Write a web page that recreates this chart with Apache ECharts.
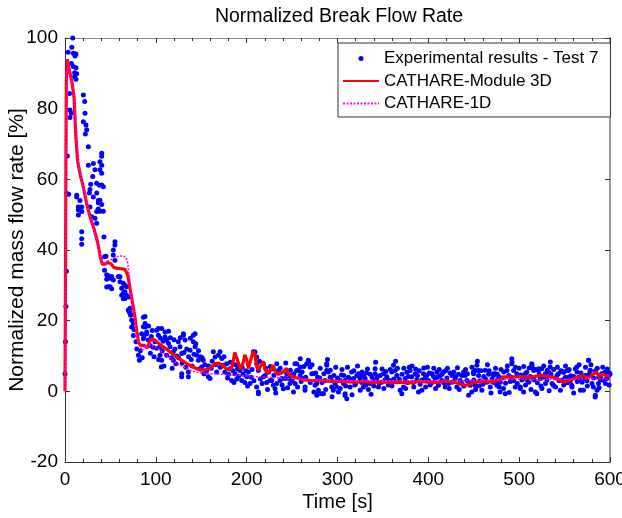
<!DOCTYPE html>
<html>
<head>
<meta charset="utf-8">
<script src="https://cdn.jsdelivr.net/npm/echarts@6/dist/echarts.min.js"></script>
<style>html,body{margin:0;padding:0;background:#fff}#c{width:622px;height:518px}</style>
</head>
<body>
<div id="c"></div>
<script>
var titleText = 'Normalized Break Flow Rate';
var xName = 'Time [s]';
var yName = 'Normalized mass flow rate [%]';
var seriesNames = ['Experimental results - Test 7', 'CATHARE-Module 3D', 'CATHARE-1D'];
var xTicks = [0, 100, 200, 300, 400, 500, 600];
var yTicks = [-20, 0, 20, 40, 60, 80, 100];

var experimental = [[0,5],[0.5,14],[1,24],[1.5,34],[2,56],[2.6,66.6],[3.5,96],[4,55.8],[5,84.3],[5.5,79.6],[5.5,77.5],[7,92.8],[7,78.7],[7.5,97.4],[8.5,100],[9.2,95.7],[9.2,91.9],[10.6,90.2],[10.6,89.1],[11,94.9],[12.1,95.5],[12.1,91.6],[12.1,88.3],[12.8,89.9],[12.8,55],[13,55.5],[14.7,52.2],[14.7,51.3],[14.7,49.9],[16.5,54],[18.4,52.2],[18.4,50.9],[18.4,45.2],[18.4,43.2],[18.4,41.6],[20.2,83.9],[20.2,76.3],[21.7,82],[22,78.7],[22.4,72.8],[23.1,75.4],[23.9,74],[25.7,69.2],[25.7,64],[26.8,56.1],[27.5,57.1],[27.5,52.2],[28.3,58.6],[29.4,49.4],[30.5,60.8],[31.2,64.5],[31.2,55],[33,62.7],[33,49],[34.9,56.1],[34.9,58.9],[34.9,50.9],[34.9,47.6],[36.7,54],[36.7,51.6],[36.7,53.4],[37.8,58.3],[38.5,65],[38.5,62.7],[38.5,51],[38.5,54.1],[40.4,67.4],[40.4,66.5],[40.4,64],[40.4,61.7],[40.4,58.4],[40.4,52.9],[42.2,57.9],[42.2,51],[42.9,43.7],[43.5,38.1],[43.5,34.3],[45.1,38.2],[45.9,33],[45.9,31.7],[45.9,29.5],[47.7,32.7],[47.7,29.6],[49.6,32],[49.6,29.6],[51.4,32.5],[51.4,29],[53.2,38.6],[53.2,31.5],[53.2,40],[55,42.3],[55,41.4],[55,37.1],[58.7,32.5],[60.6,31],[60.6,32.4],[62.4,29.2],[62.4,27.2],[64.2,30.6],[64.2,27.8],[64.2,26.2],[66,28.2],[66,26.3],[66,30],[67.9,29.6],[67.9,27.2],[69.7,26.7],[69.7,23],[70.8,22.5],[71.6,23.5],[71.6,22.1],[72.3,21.5],[73.4,20.1],[73.4,18.2],[75.3,19.2],[75.3,15.8],[76,17.5],[78.2,14],[79,12],[80.8,10.2],[81.9,8.8],[84.4,16.3],[86.3,21],[86.3,18.3],[86.3,14.9],[88.1,21.2],[88.1,19.2],[88.1,18.2],[89.9,16.8],[89.9,16.3],[91.8,14.5],[93.6,13],[95,15.5],[97,12.5],[99,14],[100.9,17.3],[102.8,15.9],[102.8,17.8],[104.6,12.6],[104.6,10.2],[106.4,8.8],[106.4,17.8],[106,6.9],[108,14.2],[110.1,16.8],[110.1,15.4],[111.9,14.5],[113.8,13.6],[115.6,12.6],[117,9.5],[119.3,11.2],[119.3,8.8],[121,12],[123,10],[124.8,14],[126.6,12.6],[128.5,10.7],[128.5,5],[128.5,4.1],[130.3,15.9],[130.3,16.3],[132.2,14.5],[134,12],[135.8,5.5],[135.8,4.1],[137.7,11.6],[139,9],[141.3,15.9],[141.3,14],[143.2,16.3],[143.2,12.6],[145,10.2],[146.8,8.8],[148.7,6.4],[150.5,6.9],[152.3,8.8],[154,7.5],[156,5.9],[157.8,4.1],[159.7,3.6],[161,6.5],[163.3,11.2],[165.2,9.7],[166,7.5],[168.8,10.2],[170.7,11.2],[172.5,9.3],[174.4,7.4],[176,5.5],[178,7.8],[180,4.8],[181.7,6.4],[183.5,3.1],[185,5.8],[187.2,5],[189,3.5],[190,6.3],[192.7,5.9],[194.5,3.1],[196,4.8],[198,2.5],[200,4.1],[202,5.5],[203.7,2.2],[205,4],[207.4,11.2],[209.2,11.1],[211,9.7],[211,7.8],[211,1.2],[212.9,5.9],[212.9,-0.2],[212.9,-0.7],[215,3.5],[218.4,7.8],[218.4,4.1],[220.3,4.5],[222,2.5],[224,5.4],[225.7,3.1],[227.6,3.1],[229.4,6.4],[229.4,1.7],[231.3,0.7],[233.1,7.8],[233.1,2.2],[235,5.9],[236.7,3.1],[238.6,3.6],[240.4,0.7],[242.3,3.6],[244,5],[246,3.6],[247.7,2.2],[249,4.5],[251.5,-0.2],[253.3,2.2],[253.2,7.8],[255,5.9],[255.1,7.8],[257,5.9],[258.7,6.9],[258.8,4.5],[260,2.8],[262.5,3.6],[264.3,1.2],[264.2,0.3],[266.1,7.8],[268,8.3],[267.9,8.8],[269.8,6.9],[271.7,5],[273.4,5],[275.3,1.7],[277.2,-1.1],[277.1,2.2],[279,0.3],[279,-0.7],[280.5,3.8],[282.7,-0.7],[284.5,-0.7],[286.3,3.1],[288.2,7.4],[288.1,5.9],[288.1,7.8],[290,5.5],[291.9,4],[293.7,1.2],[293.6,3.1],[295.4,0.3],[297.4,2.2],[299.1,1.2],[301,-0.2],[302.9,3.1],[304.5,4.6],[306.6,2.2],[308.4,-0.7],[308.3,-1.2],[308.3,3.1],[310.2,-2.1],[312,4],[313.9,1.2],[315.5,5.5],[317.6,3.6],[319,1.8],[321.2,4.5],[323.1,5],[324.9,3.6],[324.9,4.5],[326.5,2.5],[328.6,1.2],[330.4,3.6],[332,5.2],[334,0.5],[335.9,2.2],[338,4],[339.5,3],[341.4,6.4],[341.4,5],[343,3.5],[345.1,1.2],[347,4.5],[348.8,2.6],[350.6,5],[352.5,3.3],[354.3,4.1],[356,1.8],[357.9,3.1],[359.8,5.5],[361.6,7.4],[363.4,5.9],[365.3,4.5],[367,2.8],[369,0.3],[370.8,-0.7],[372.7,1.2],[374.5,3.6],[376.3,5.4],[378,4.2],[380,5.9],[381.8,4.1],[383.5,2.5],[385.5,5],[387.4,3.3],[389.2,-0.2],[391,2],[392.8,0.3],[394.7,5],[396.5,3.8],[398.3,4.5],[400.2,3.1],[402,1.8],[403.9,5],[405.7,4.2],[407.5,3.6],[409.4,5.4],[411.2,1.7],[413,4.4],[414.9,3.1],[416.7,5.5],[418.6,1.2],[420.4,3.8],[422.2,2.2],[424,5.2],[425.9,4.5],[427.7,2.8],[429.6,3.6],[431.4,1.2],[433.2,4.8],[435.1,3.1],[436.9,2.2],[438.8,5.5],[440.6,4.5],[442.4,3.1],[444.3,-1.1],[446.1,1.7],[447.8,-0.2],[449.7,5.5],[449.8,5],[451.5,1.7],[451.6,5.9],[453.5,7.4],[455.2,5.9],[455.3,4.5],[457,3],[459,0.3],[461,4.2],[462.5,6],[464.5,2.6],[466.4,4.8],[468.2,1.2],[470,3.5],[471.8,4.5],[471.7,5],[473.7,5],[475.5,1.7],[475.4,3.1],[477.3,4.2],[479.2,2.6],[479,-0.2],[481,3.8],[482.8,0.8],[484.7,-0.7],[486.5,5.9],[488.4,4.5],[490.2,2.8],[491.9,9.2],[492.1,8.3],[491.9,7.8],[493.9,5.9],[495.7,1.2],[497.4,5],[499.4,4.5],[501.3,1.2],[501.1,0.8],[503,3.2],[504.7,3.6],[504.9,-0.2],[506.8,5],[508.4,5.4],[510.5,2.6],[512.3,4.2],[514.1,7.4],[513.9,7.8],[516,5.9],[515.7,6.4],[517.8,-0.2],[519.4,-0.7],[521.5,6.4],[521.2,5.9],[523.3,3.6],[524.9,6.4],[525.1,0.8],[526.7,4],[528.8,5],[530.6,3.2],[532.4,5.5],[534.3,8.3],[534.1,6.9],[536.2,2.2],[537.7,1.7],[539.8,3.8],[541.7,4.5],[543.2,5],[545.4,0.3],[547,3.2],[549,5.5],[548.7,5.4],[550.8,4],[552.7,5.9],[554.5,4],[554.2,5.9],[556.3,3],[558.2,1.2],[557.9,1.7],[560,4.2],[561.9,6.4],[563.7,5.5],[563.4,6.9],[565.5,4],[567.4,0.3],[567.1,3.1],[569.2,2.6],[570.7,0.3],[572.9,4.5],[574.7,3],[576.6,8.8],[576.2,8.8],[578.4,5.9],[578.1,5.9],[580.2,2.2],[581.7,1.2],[583.9,-1.1],[583.6,-1.6],[585.7,0.3],[587.6,4],[587.3,2.2],[589.4,3.2],[591.3,5],[590.9,5],[593.1,3.1],[594.9,5.5],[594.6,5.4],[596.4,3.6],[598,4.5],[599.5,5.2],
[83,11.5],[85,9.5],[87,15.5],[92,18.5],[94,10.8],[96,17.2],[98,9.8],[101,12.2],[103,9],[105,15],[107,11.5],[109,7.2],[112,10.2],[114,17],[116,15.2],[118,6.5],[120,14.6],[122,7.8],[125,9.5],[127,15.2],[129,8],[131,11],[133,6.8],[136,9.8],[138,15],[140,7.2],[142,10.5],[144,13.5],[147,11.5],[149,9.8],
[151,9.5],[153,5],[158,7.2],[162,8.5],[167,5.5],[171,6.8],[175,9.8],[179,3.8],[182,8.2],[186,2.5],[188,7.5],[191,4.2],[195,6.8],[199,5.8],[201,1.5],[206,6.2],[208,3],[214,8.5],[217,2.2],[221,6.5],[223,0.5],[226,7],[230,4.5],[232,-0.5],[237,6.5],[239,1.8],[243,8],[245,1],[248,6],[250,3],[252,5],[256,1.2],[259,9.2],[261,5.5],[263,7],[265,4],[270,2.5],[272,7.5],[274,-0.2],[276,5.2],[278,4],[281,6.5],[283,2.5],[285,5],[287,0.5],[289,9],[292,6],[294,-1.5],[296,4.5],[298,6.8],[300,3.8],[303,0.8],[305,6.2],[307,4.5],[309,1.5],[311,6.8],[314,3.5],[316,-1],[318,5.8],[320,2.2],[322,7.2],[325,0.3],[327,5.5],[329,4.2],[331,1.8],[333,6.3],[336,4.8],[337,-0.8],[340,1.5],[342,8.2],[344,4.2],[346,2.3],[349,6.3],[351,0.8],[353,5.6],[355,3.1],[358,6.2],[360,1.5],[362,3.5],[364,8.5],[366,6.5],[368,3.4],[371,4.8],[373,6.5],[375,0.8],[377,2.5],[379,6.8],[382,7.2],[384,1.2],[386,6.3],[388,4.5],[390,5.8],[393,3.2],[395,6.6],[397,1.2],[399,6.8],[401,5.2],[404,2.5],[406,6.5],[408,0.8],[410,4],[412,6.2],[415,4.8],[417,2.4],[419,5.8],[421,6.5],[423,0.8],[426,2.6],[428,5.5],[430,4.2],[432,6.7],[434,0.5],[437,4.5],[439,1.5],[441,6.2],[443,5],[445,2.6],[448,6.8],[450,3.2],[452,0.5],[454,8.5],[456,1.5],[458,5.8],[460,2],[463,3.5],[465,7.5],[467,5.8],[469,-0.5],[472,2.5],[474,6.5],[476,4.8],[478,1.2],[480,6.2],[483,5.5],[485,2.3],[487,7.2],[489,-0.3],[491,4],[494,3],[496,6.8],[498,2.2],[500,6.5],[502,4.6],[505,7],[507,1.8],[509,3.2],[511,6.6],[513,0.5],[516,3.3],[518,6.2],[520,2.4],[522,4.8],[524,1.5],[527,7.2],[529,2.2],[531,6],[533,0.2],[535,4.8],[538,6.2],[540,1.2],[542,6.8],[544,3],[546,5.8],[549,1.8],[551,7.2],[553,2.4],[555,6.2],[557,4.4],[560,-0.5],[562,3.8],[564,2.8],[566,7.5],[568,5.2],[571,3.5],[573,6.8],[575,1.5],[577,4.8],[579,7.5],[582,3.8],[584,5.8],[586,6.5],[588,1],[590,3.8],[592,6.8],[595,2.2],[597,6.3],[599,1.8],[600,4.8]];

var module3D = [[0,0],[0.5,30],[1,65],[1.5,88],[2.5,94],[4,92],[6,89.5],[8,87],[10,83],[12,72],[14,65],[17,61],[20,58],[24,53],[28,49],[32,46],[36,42],[39,38],[41,36],[44,36],[47,36.5],[49,37],[51,36],[54,35],[58,34.8],[62,34.7],[66,34.5],[69,33],[71,30],[73,27],[75,24],[77,21],[79,17],[81,14],[83,13],[85,12.5],[87,13],[89,13.5],[91,12.3],[93,14],[95,14.8],[97,15],[99,14.5],[102,13.8],[106,13],[110,12.3],[115,11.3],[120,10.3],[126,9.2],[132,8.2],[138,7.3],[144,6.5],[150,6],[155,6],[160,6.6],[165,7.8],[169,8],[173,7.5],[177,6.5],[181,6],[184,7],[187,11],[189,11.5],[191,8],[193,6.2],[196,8],[198,10.3],[200,9],[202,6.5],[204,7],[207,11.3],[209,10.5],[211,7],[213,6],[215,6.5],[218,8.5],[220,6.5],[222,5.2],[225,5.5],[229,7.4],[231,5.8],[234,4.8],[237,5],[240,5.5],[244,6.5],[246,5],[250,4.2],[255,3.8],[262,3.3],[270,3.1],[280,3],[290,2.9],[300,2.8],[310,2.7],[320,2.6],[330,2.8],[340,2.5],[350,2.7],[360,2.4],[370,2.6],[380,2.4],[390,2.8],[400,2.6],[410,2.5],[420,2.9],[430,2.5],[436,2],[440,1.7],[445,1.9],[450,2.5],[460,2.8],[470,2.6],[478,3.2],[483,4.1],[490,4],[500,4.2],[510,4],[520,4.3],[526,4.5],[532,4.2],[540,3.8],[548,2.6],[555,3],[562,3.8],[570,4.4],[576,3.8],[580,4.6],[585,5.5],[588,4.2],[592,4.8],[596,4.4],[600,4.2]];

var cathare1D = [[0,0],[0.5,30],[1,65],[2,90],[3,93.5],[5,91],[7,88],[9,86],[11,80],[13,70],[15,64],[18,60],[21,57],[25,52],[29,48],[33,44.5],[37,40.5],[40,37],[42,36],[45,36.5],[48,37],[50,37.5],[53,37.5],[56,38],[60,38.3],[64,38.3],[67,38],[69,36.5],[71,32],[73,28],[75,24],[77,20],[79,16],[81,13.5],[83,12.5],[85,11.5],[87,12],[89,13],[91,12],[93,13.2],[96,13],[100,12.5],[105,11.5],[110,10.5],[115,9.5],[120,8.5],[126,7.5],[132,6.8],[138,6],[144,5.5],[150,5.2],[160,5],[170,4.9],[180,4.7],[190,4.5],[200,4.4],[210,4.2],[220,4],[230,3.9],[240,3.7],[250,3.6],[260,3.4],[270,3.3],[280,3.2],[300,3.1],[320,3],[340,3.1],[360,3],[380,3.1],[400,3],[420,3.1],[440,3],[460,3.2],[480,3.3],[500,3.4],[520,3.3],[540,3.5],[560,3.4],[580,3.6],[600,3.5]];

var FONT = 'Liberation Sans, Arial, Helvetica, sans-serif';
var chart = echarts.init(document.getElementById('c'), null, {renderer: 'canvas'});

function baseX(pos, show) {
  return {
    type: 'value', position: pos, min: xTicks[0], max: xTicks[xTicks.length-1],
    interval: xTicks[1]-xTicks[0],
    axisLine: {show: true, onZero: false, lineStyle: {color: pos==='top' ? '#888' : '#333', width: 1}},
    axisTick: {show: true, inside: true, length: 5, lineStyle: {color: '#333'}},
    minorTick: {show: true, splitNumber: 5, length: 3, lineStyle: {color: '#333'}},
    splitLine: {show: false},
    axisLabel: {show: show, color: '#000', fontSize: 19, fontFamily: FONT, margin: 8},
    name: show ? xName : '', nameLocation: 'middle', nameGap: 30, nameMoveOverlap: false,
    nameTextStyle: {color: '#000', fontSize: 20, fontFamily: FONT}
  };
}
function baseY(pos, show) {
  return {
    type: 'value', position: pos, min: yTicks[0], max: yTicks[yTicks.length-1],
    interval: yTicks[1]-yTicks[0],
    axisLine: {show: true, onZero: false, lineStyle: {color: pos==='right' ? '#999' : '#333', width: pos==='right' ? 2 : 1}},
    axisTick: {show: true, inside: true, length: 5, lineStyle: {color: '#333'}},
    splitLine: {show: false},
    axisLabel: {show: show, color: '#000', fontSize: 19, fontFamily: FONT, margin: 7},
    name: show ? yName : '', nameLocation: 'middle', nameGap: 37, nameMoveOverlap: false,
    nameTextStyle: {color: '#000', fontSize: 21, fontFamily: FONT}
  };
}

chart.setOption({
  animation: false,
  backgroundColor: '#fff',
  title: {text: titleText, left: 334, textAlign: 'center', top: 2,
    textStyle: {color: '#000', fontSize: 19.5, fontWeight: 'normal', fontFamily: FONT}},
  grid: {left: 65, right: 12, top: 38, bottom: 56, containLabel: false, outerBoundsMode: 'none'},
  legend: {
    show: true, orient: 'vertical', left: 338, top: 43,
    padding: [7, 12, 5, 4], itemGap: 5.5, itemWidth: 36, itemHeight: 5,
    backgroundColor: '#fff', borderColor: '#333', borderWidth: 1,
    textStyle: {color: '#000', fontSize: 17, fontFamily: FONT},
    data: [
      {name: seriesNames[0], icon: 'circle'},
      {name: seriesNames[1], itemStyle: {opacity: 0}},
      {name: seriesNames[2], itemStyle: {opacity: 0}}
    ]
  },
  xAxis: [baseX('bottom', true), baseX('top', false)],
  yAxis: [baseY('left', true), baseY('right', false)],
  series: [
    {name: seriesNames[0], type: 'scatter', data: experimental, symbol: 'circle', symbolSize: 5,
      itemStyle: {color: '#0000ff', opacity: 1}, z: 2},
    {name: seriesNames[1], type: 'line', data: module3D, symbol: 'none', showSymbol: false,
      lineStyle: {color: '#ff0000', width: 3.2}, itemStyle: {color: '#ff0000'}, z: 3},
    {name: seriesNames[2], type: 'line', data: cathare1D, symbol: 'none', showSymbol: false,
      lineStyle: {color: '#ff00ff', width: 1.5, type: [2, 1.5]}, itemStyle: {color: '#ff00ff'}, z: 4}
  ]
});
</script>
</body>
</html>
